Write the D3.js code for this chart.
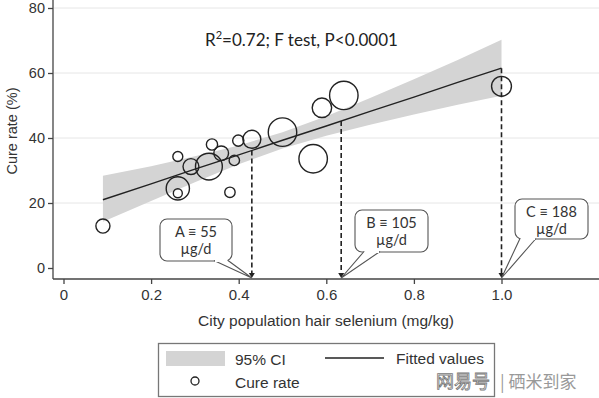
<!DOCTYPE html>
<html>
<head>
<meta charset="utf-8">
<script src="https://cdn.jsdelivr.net/npm/d3@7"></script>
<style>
  body { margin: 0; background: #fff; }
  svg { display: block; }
</style>
</head>
<body>
<script>
// city points: hair selenium (mg/kg), cure rate (%), weight (bubble size)
var selenium = [0.09, 0.261, 0.261, 0.261, 0.291, 0.332, 0.339, 0.36, 0.39, 0.38, 0.399, 0.43, 0.50, 0.57, 0.59, 0.64, 1.0];
var cureRate = [12.9, 34.3, 24.5, 23.0, 31.2, 31.2, 38.0, 35.3, 33.1, 23.3, 39.2, 39.6, 41.8, 33.6, 49.3, 53.1, 55.9];
var weight   = [22, 11, 60, 9, 28, 80, 14, 24, 12, 12, 14, 36, 90, 90, 42, 90, 44];

// fitted line and 95% CI read at these x positions
var fitX   = [0.09, 0.2, 0.3, 0.4, 0.5, 0.6, 0.7, 0.8, 0.9, 1.0];
var fitY   = [21.0, 25.9, 30.4, 34.8, 39.3, 43.7, 48.2, 52.6, 57.1, 61.5];
var ciLow  = [14.2, 20.6, 26.4, 31.9, 36.8, 40.7, 44.1, 47.2, 50.2, 53.0];
var ciHigh = [28.4, 31.3, 34.4, 37.7, 41.8, 46.7, 52.3, 58.1, 64.0, 70.2];

var xTicks = [0, 0.2, 0.4, 0.6, 0.8, 1.0];
var yTicks = [0, 20, 40, 60, 80];

// reference doses marked on the x axis
var doseX     = [0.43, 0.634, 1.0];
var doseLabel = ["A \u2261 55", "B \u2261 105", "C \u2261 188"];

var width = 599, height = 398;
var svg = d3.select("body").append("svg")
  .attr("width", width)
  .attr("height", height);

var x = d3.scaleLinear().domain([0, 1]).range([63.5, 501.5]);
var y = d3.scaleLinear().domain([0, 80]).range([268, 8]);
var r = d3.scaleSqrt().domain([0, 100]).range([0, 15]);

var axisFont = "'Liberation Sans', Arial, sans-serif";
var calloutFont = "Lato, 'Open Sans', sans-serif";

// gridlines
svg.append("g").selectAll("line")
  .data(yTicks.slice(1))
  .enter().append("line")
  .attr("x1", 54).attr("x2", width)
  .attr("y1", function(d) { return y(d); })
  .attr("y2", function(d) { return y(d); })
  .attr("stroke", "#e6e6e6")
  .attr("stroke-width", 1);

// CI band
var band = d3.area()
  .x(function(d, i) { return x(fitX[i]); })
  .y0(function(d, i) { return y(ciLow[i]); })
  .y1(function(d, i) { return y(ciHigh[i]); });
svg.append("path")
  .datum(fitX)
  .attr("d", band)
  .attr("fill", "#d4d4d4");

// fitted line
var line = d3.line()
  .x(function(d, i) { return x(fitX[i]); })
  .y(function(d, i) { return y(fitY[i]); });
svg.append("path")
  .datum(fitX)
  .attr("d", line)
  .attr("fill", "none")
  .attr("stroke", "#222")
  .attr("stroke-width", 1.4);

// bubbles
svg.append("g").selectAll("circle")
  .data(selenium)
  .enter().append("circle")
  .attr("cx", function(d) { return x(d); })
  .attr("cy", function(d, i) { return y(cureRate[i]); })
  .attr("r", function(d, i) { return r(weight[i]); })
  .attr("fill", "none")
  .attr("stroke", "#222")
  .attr("stroke-width", 1.4);

// fitted value at a dose position
var x0 = fitX[0], x1 = fitX[fitX.length - 1];
function fitAt(v) {
  var slope = (fitY[fitY.length - 1] - fitY[0]) / (x1 - x0);
  return fitY[0] + slope * (v - x0);
}

// dashed drop lines with arrowheads
var axisY = 279;
var drops = svg.append("g");
doseX.forEach(function(d) {
  drops.append("line")
    .attr("x1", x(d)).attr("x2", x(d))
    .attr("y1", y(fitAt(d))).attr("y2", axisY - 4)
    .attr("stroke", "#222")
    .attr("stroke-width", 1.6)
    .attr("stroke-dasharray", "5,3");
  drops.append("path")
    .attr("d", "M" + (x(d) - 3) + "," + (axisY - 6) + "L" + (x(d) + 3) + "," + (axisY - 6) + "L" + x(d) + "," + (axisY - 1) + "Z")
    .attr("fill", "#222");
});

// callouts
var boxes = [
  { left: 160, top: 219, w: 72, h: 42, tail: [214, 228] },
  { left: 355, top: 210, w: 73, h: 42, tail: [364, 380] },
  { left: 515, top: 199, w: 73, h: 40, tail: [520, 536] }
];
boxes.forEach(function(b, i) {
  var g = svg.append("g");
  var tx = x(doseX[i]);
  var bot = b.top + b.h;
  g.append("rect")
    .attr("x", b.left).attr("y", b.top)
    .attr("width", b.w).attr("height", b.h)
    .attr("rx", 7)
    .attr("fill", "#fff")
    .attr("stroke", "#555")
    .attr("stroke-width", 1.1);
  g.append("path")
    .attr("d", "M" + b.tail[0] + "," + (bot - 0.5) + "L" + tx + "," + (axisY - 1) + "L" + b.tail[1] + "," + (bot - 0.5))
    .attr("fill", "#fff")
    .attr("stroke", "#555")
    .attr("stroke-width", 1.1);
  g.append("line")
    .attr("x1", b.tail[0] + 1).attr("x2", b.tail[1] - 1)
    .attr("y1", bot).attr("y2", bot)
    .attr("stroke", "#fff")
    .attr("stroke-width", 2);
  var cx = b.left + b.w / 2;
  g.append("text")
    .attr("x", cx).attr("y", b.top + 18)
    .attr("text-anchor", "middle")
    .style("font-family", calloutFont)
    .style("font-size", "14.5px")
    .attr("fill", "#333")
    .text(doseLabel[i]);
  g.append("text")
    .attr("x", cx).attr("y", b.top + 35)
    .attr("text-anchor", "middle")
    .style("font-family", calloutFont)
    .style("font-size", "14.5px")
    .attr("fill", "#333")
    .text("\u00b5g/d");
});

// axes
var yAxis = svg.append("g")
  .attr("transform", "translate(53,0)")
  .call(d3.axisLeft(y).tickValues(yTicks).tickSize(5).tickPadding(3));
yAxis.select(".domain").attr("d", "M0,0V" + axisY);
var xAxis = svg.append("g")
  .attr("transform", "translate(0," + axisY + ")")
  .call(d3.axisBottom(x).tickValues(xTicks).tickSize(5).tickPadding(5)
    .tickFormat(function(d) { return d === 1 ? "1.0" : d === 0 ? "0" : d3.format(".1f")(d); }));
xAxis.select(".domain").attr("d", "M53,0H" + width);
svg.selectAll(".tick text")
  .style("font-family", axisFont)
  .style("font-size", "15px")
  .attr("fill", "#333");
yAxis.selectAll(".tick text").style("font-size", "14.5px");
svg.selectAll(".domain, .tick line")
  .attr("stroke", "#444")
  .attr("stroke-width", 1.3);

// axis titles
svg.append("text")
  .attr("x", 326).attr("y", 326)
  .attr("text-anchor", "middle")
  .style("font-family", axisFont)
  .style("font-size", "15.5px")
  .attr("fill", "#333")
  .text("City population hair selenium (mg/kg)");
svg.append("text")
  .attr("transform", "translate(17,131) rotate(-90)")
  .attr("text-anchor", "middle")
  .style("font-family", axisFont)
  .style("font-size", "14.5px")
  .attr("fill", "#333")
  .text("Cure rate (%)");

// statistic annotation
var stat = svg.append("text")
  .attr("x", 205).attr("y", 46)
  .style("font-family", calloutFont)
  .style("font-size", "17px")
  .attr("fill", "#222");
stat.append("tspan").text("R");
stat.append("tspan").attr("dy", -7).style("font-size", "11px").text("2");
stat.append("tspan").attr("dy", 7).text("=0.72; F test, P<0.0001");

// legend
var leg = svg.append("g");
leg.append("rect")
  .attr("x", 158.5).attr("y", 343.5)
  .attr("width", 336).attr("height", 53)
  .attr("fill", "#fff")
  .attr("stroke", "#777")
  .attr("stroke-width", 1.3);
leg.append("rect")
  .attr("x", 166).attr("y", 351)
  .attr("width", 59).attr("height", 15)
  .attr("fill", "#d4d4d4");
leg.append("circle")
  .attr("cx", 195).attr("cy", 381).attr("r", 4)
  .attr("fill", "none")
  .attr("stroke", "#222")
  .attr("stroke-width", 1.3);
leg.append("line")
  .attr("x1", 325).attr("x2", 384)
  .attr("y1", 358).attr("y2", 358)
  .attr("stroke", "#222")
  .attr("stroke-width", 1.3);
var legText = [["95% CI", 235, 365], ["Cure rate", 235, 388], ["Fitted values", 396, 364]];
legText.forEach(function(t) {
  leg.append("text")
    .attr("x", t[1]).attr("y", t[2])
    .style("font-family", axisFont)
    .style("font-size", "15.5px")
    .attr("fill", "#333")
    .text(t[0]);
});

// watermark
svg.append("text")
  .attr("x", 436).attr("y", 388)
  .style("font-family", "'Noto Sans CJK SC', sans-serif")
  .style("font-size", "18px")
  .attr("fill", "#fff")
  .attr("stroke", "#777")
  .attr("stroke-width", 0.8)
  .text("网易号");
svg.append("text")
  .attr("x", 500).attr("y", 388)
  .style("font-family", "'Noto Sans CJK SC', sans-serif")
  .style("font-size", "17px")
  .attr("fill", "#999")
  .text("| 硒米到家");
</script>
</body>
</html>
